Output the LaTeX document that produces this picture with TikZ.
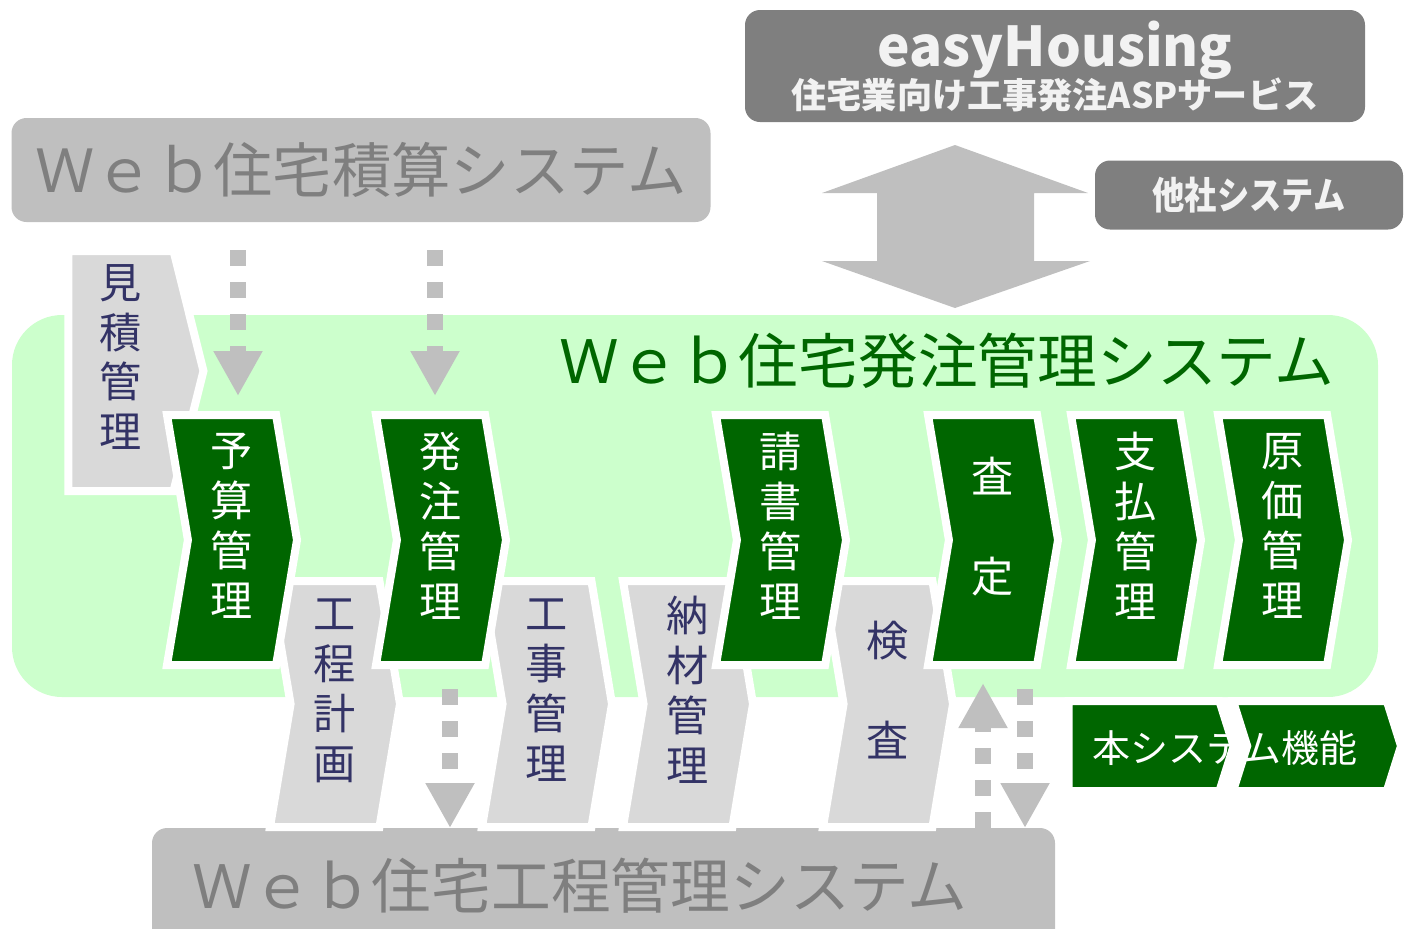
\documentclass[tikz,border=0pt]{standalone}
\usepackage{fontspec}
\usepackage{graphicx}
\setmainfont{Noto Sans CJK JP}
\usetikzlibrary{shapes.symbols, arrows.meta}
\definecolor{regiongreen}{HTML}{CCFFCC}
\definecolor{procgreen}{HTML}{006600}
\definecolor{stepgrey}{HTML}{D9D9D9}
\definecolor{stepnavy}{HTML}{333366}
\definecolor{sysgrey}{HTML}{BFBFBF}
\definecolor{titlegrey}{HTML}{7F7F7F}
\definecolor{asptext}{HTML}{F2F2F2}
\newcommand{\stf}{\fontsize{12pt}{14.2pt}\selectfont}
\newcommand{\ttlf}{\fontsize{17pt}{20pt}\selectfont}
\tikzstyle{stp}=[signal, signal from=west, signal to=east, signal pointer angle=161, draw=white, line width=.8mm, outer sep=0pt, inner sep=0pt, minimum width=13mm, align=center, font=\stf, execute at end node={\rule[-3mm]{0pt}{0pt}}]
\tikzstyle{stp1}=[stp, fill=procgreen, text=white, minimum height=25mm]
\tikzstyle{stp2}=[stp, fill=stepgrey, text=stepnavy, minimum height=24.6mm]
\tikzstyle{sys}=[rounded corners=1.5mm, fill=sysgrey, text=titlegrey, font=\ttlf, inner sep=0pt, outer sep=0pt]
\tikzstyle{asp}=[rounded corners=1.5mm, fill=titlegrey, text=asptext, font=\bfseries, align=center, inner sep=0pt, outer sep=0pt]
\tikzstyle{darr}=[draw=sysgrey, line width=1.6mm, dash pattern=on 1.6mm off 1.6mm, -{Triangle[width=4.6mm, length=4.5mm]}]

\begin{document}
\begin{tikzpicture}[x=.1mm, y=-.1mm]
  \useasboundingbox (0,0) rectangle (1411,928);
  % green area
  \node (hcz) [fill=regiongreen, rounded corners=5mm, minimum width=136.6mm, minimum height=38.2mm, inner sep=0pt] at (695,506) {};
  \node (hcztitle) [text=procgreen, font=\ttlf] at (947,361) {Ｗｅｂ住宅発注管理システム};
  % other systems
  \node (seks) [sys, minimum width=69.9mm, minimum height=10.4mm] at (361,170) {\fontsize{16.9pt}{20pt}\selectfont Ｗｅｂ住宅積算システム};
  \node (easy) [asp, minimum width=62mm, minimum height=11.2mm] at (1055,66) {{\fontsize{15.6pt}{15pt}\selectfont easyHousing}\\[-1.5pt]{\fontsize{10pt}{12pt}\selectfont 住宅業向け工事発注ASPサービス}};
  \node (tasha) [asp, minimum width=30.8mm, minimum height=6.9mm] at (1249,195) {\scalebox{.85}[1]{\fontsize{10.8pt}{12pt}\selectfont 他社システム}};
  \fill[sysgrey] (955,145) -- (1088,193) -- (1034,193) -- (1034,261) -- (1090,261) -- (955,308) -- (822,261) -- (877,261) -- (877,193) -- (822,193) -- cycle;
  \node (koutei) [sys, minimum width=90.3mm, minimum height=12.4mm] at (603.5,890) {};
  \node (kouteititle) [text=titlegrey, font=\ttlf] at (580,886) {Ｗｅｂ住宅工程管理システム};
  % grey steps
  \node (mitsu) [stp2, signal from=nowhere, signal pointer angle=152, minimum width=13.5mm, minimum height=24mm] at (121,371) {見\\積\\管\\理};
  \node (kotei) [stp2] at (335,704) {工\\程\\計\\画};
  \node (kouji) [stp2] at (547,704) {工\\事\\管\\理};
  \node (nouzai) [stp2] at (688,704) {納\\材\\管\\理};
  \node (kensa) [stp2] at (888,704) {検\\[14.2pt]査};
  % green steps
  \node (yosan) [stp1] at (232,540) {予\\算\\管\\理};
  \node (hacchu) [stp1] at (441,540) {発\\注\\管\\理};
  \node (ukesho) [stp1] at (781,540) {請\\書\\管\\理};
  \node (satei) [stp1] at (993,540) {査\\[14.2pt]定};
  \node (shiharai) [stp1] at (1136,540) {支\\払\\管\\理};
  \node (genka) [stp1] at (1283,540) {原\\価\\管\\理};
  % dotted arrows
  \coordinate (a1) at ([xshift=.6mm]yosan.north);
  \coordinate (a2) at ([xshift=-.6mm]hacchu.north);
  \coordinate (a3) at ([xshift=.9mm]hacchu.south);
  \coordinate (a4) at ([xshift=-1mm]satei.south);
  \coordinate (a5) at ([xshift=3.2mm]satei.south);
  \draw[darr, shorten <=2.8mm, shorten >=1.9mm] (seks.south -| a1) -- (a1);
  \draw[darr, shorten <=2.8mm, shorten >=1.9mm] (seks.south -| a2) -- (a2);
  \draw[darr, shorten <=2.4mm] (a3) -- (koutei.north -| a3);
  \draw[darr, shorten >=1.8mm] (koutei.north -| a4) -- (a4);
  \draw[darr, shorten <=2.4mm] (a5) -- (koutei.north -| a5);
  % legend
  \node (lg1) [signal, signal to=east, signal pointer angle=145, fill=procgreen, draw=white, line width=.8mm, outer sep=0pt, inner sep=0pt, minimum width=16.5mm, minimum height=9mm] at (1144,746) {};
  \node (lg2) [signal, signal from=west, signal to=east, signal pointer angle=145, fill=procgreen, draw=white, line width=.8mm, outer sep=0pt, inner sep=0pt, minimum width=16.8mm, minimum height=9mm] at (1317,746) {};
  \node (lgtext) [text=white, font=\fontsize{10.8pt}{12pt}\selectfont] at (1225,748) {本システム機能};
\end{tikzpicture}
\end{document}
